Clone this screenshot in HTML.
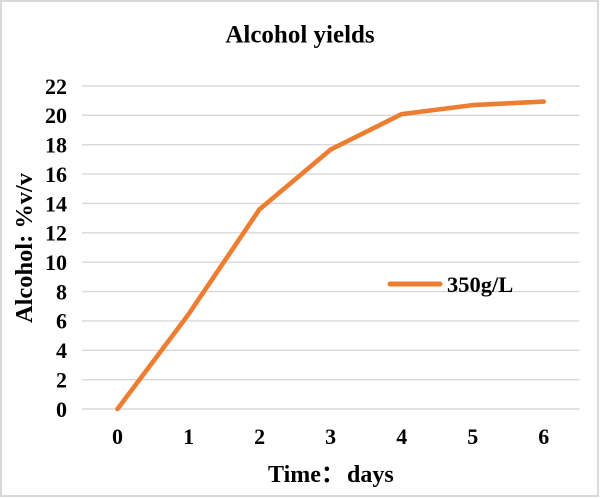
<!DOCTYPE html>
<html>
<head>
<meta charset="utf-8">
<style>
  html, body { margin: 0; padding: 0; background: #ffffff; }
  body { width: 600px; height: 498px; overflow: hidden; }
  svg { display: block; }
  text { font-family: "Liberation Serif", "Noto Serif CJK SC", serif; font-weight: bold; fill: #000; }
</style>
</head>
<body>
<svg width="600" height="498" viewBox="0 0 600 498" xmlns="http://www.w3.org/2000/svg">
  <rect x="0" y="0" width="600" height="498" fill="#ffffff"/>
  <rect x="1" y="1" width="597" height="495" fill="none" stroke="#d9d9d9" stroke-width="2"/>

  <!-- Title -->
  <text x="300" y="42.5" font-size="25" text-anchor="middle">Alcohol yields</text>

  <!-- Gridlines -->
  <g stroke="#d9d9d9" stroke-width="1.4">
    <line x1="82" y1="409" x2="579.5" y2="409"/>
    <line x1="82" y1="379.64" x2="579.5" y2="379.64"/>
    <line x1="82" y1="350.27" x2="579.5" y2="350.27"/>
    <line x1="82" y1="320.91" x2="579.5" y2="320.91"/>
    <line x1="82" y1="291.55" x2="579.5" y2="291.55"/>
    <line x1="82" y1="262.18" x2="579.5" y2="262.18"/>
    <line x1="82" y1="232.82" x2="579.5" y2="232.82"/>
    <line x1="82" y1="203.45" x2="579.5" y2="203.45"/>
    <line x1="82" y1="174.09" x2="579.5" y2="174.09"/>
    <line x1="82" y1="144.73" x2="579.5" y2="144.73"/>
    <line x1="82" y1="115.36" x2="579.5" y2="115.36"/>
    <line x1="82" y1="86" x2="579.5" y2="86"/>
  </g>

  <!-- Y tick labels -->
  <g font-size="22" text-anchor="end">
    <text x="67" y="416.8">0</text>
    <text x="67" y="387.4">2</text>
    <text x="67" y="358.1">4</text>
    <text x="67" y="328.7">6</text>
    <text x="67" y="299.3">8</text>
    <text x="67" y="270">10</text>
    <text x="67" y="240.6">12</text>
    <text x="67" y="211.3">14</text>
    <text x="67" y="181.9">16</text>
    <text x="67" y="152.5">18</text>
    <text x="67" y="123.2">20</text>
    <text x="67" y="93.8">22</text>
  </g>

  <!-- X tick labels -->
  <g font-size="22" text-anchor="middle">
    <text x="117.5" y="443.8">0</text>
    <text x="188.6" y="443.8">1</text>
    <text x="259.6" y="443.8">2</text>
    <text x="330.6" y="443.8">3</text>
    <text x="401.7" y="443.8">4</text>
    <text x="472.7" y="443.8">5</text>
    <text x="543.8" y="443.8">6</text>
  </g>

  <!-- Series -->
  <polyline fill="none" stroke="#ED7D31" stroke-width="4.6" stroke-linejoin="round" stroke-linecap="round"
    points="117.5,409 188.6,314.2 259.6,209.2 330.6,149.6 401.7,114.1 472.7,105.1 543.8,101.6"/>

  <!-- Legend -->
  <line x1="390" y1="284" x2="440" y2="284" stroke="#ED7D31" stroke-width="5" stroke-linecap="round"/>
  <text x="447" y="292" font-size="22.5">350g/L</text>

  <!-- Axis titles -->
  <text x="268" y="482" font-size="24">Time<tspan font-family="'Noto Sans CJK SC', sans-serif">：</tspan></text>
  <text x="347" y="482" font-size="24">days</text>
  <text transform="translate(32,323) rotate(-90)" x="0" y="0" font-size="24" textLength="150" lengthAdjust="spacingAndGlyphs">Alcohol: %v/v</text>
</svg>
</body>
</html>
